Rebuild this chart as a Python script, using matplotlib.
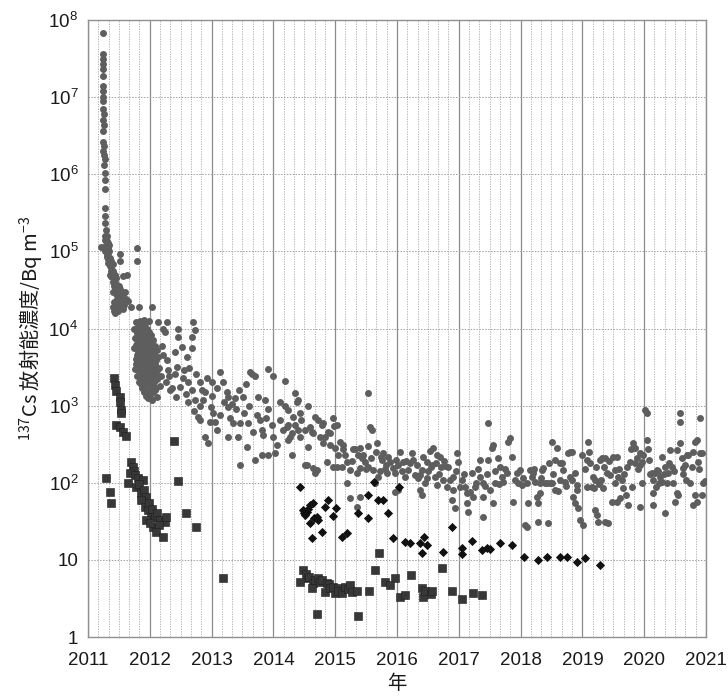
import numpy as np
import matplotlib
matplotlib.use("Agg")
import matplotlib.pyplot as plt
from matplotlib.ticker import MultipleLocator, FixedLocator, FixedFormatter, NullLocator, FuncFormatter

plt.rcParams['font.family'] = ['Liberation Sans', 'Noto Sans CJK JP', 'DejaVu Sans']
plt.rcParams['mathtext.default'] = 'regular'

# 137Cs 濃度 (Bq m^-3) -- 灰色の丸: 主系列
gray_2011 = [
    (2011.24, 6.8e7), (2011.24, 3.6e7), (2011.25, 3.1e7), (2011.24, 2.7e7), (2011.25, 2.3e7),
    (2011.24, 1.9e7), (2011.25, 1.4e7), (2011.24, 1.2e7), (2011.25, 1.0e7), (2011.24, 9.0e6),
    (2011.25, 7.0e6), (2011.26, 6.0e6), (2011.25, 5.0e6), (2011.26, 4.4e6), (2011.24, 3.6e6),
    (2011.25, 2.6e6), (2011.26, 2.3e6), (2011.25, 2.0e6), (2011.26, 1.8e6), (2011.27, 1.6e6),
    (2011.26, 1.3e6), (2011.27, 1.05e6), (2011.27, 8.5e5), (2011.27, 6.5e5), (2011.28, 3.6e5),
    (2011.28, 2.9e5), (2011.28, 2.3e5), (2011.29, 1.9e5), (2011.28, 1.6e5), (2011.30, 1.35e5),
    (2011.29, 1.2e5), (2011.21, 1.15e5), (2011.31, 1.05e5), (2011.30, 1.25e5), (2011.32, 1.1e5),
    (2011.33, 9.5e4), (2011.31, 8.5e4), (2011.34, 1.0e5), (2011.35, 8.2e4), (2011.33, 7.0e4),
    (2011.36, 6.5e4), (2011.37, 5.5e4), (2011.38, 6.2e4), (2011.36, 5.0e4), (2011.39, 4.6e4),
    (2011.40, 4.0e4), (2011.42, 3.6e4), (2011.41, 3.0e4), (2011.43, 4.2e4), (2011.44, 3.8e4),
    (2011.45, 2.8e4), (2011.42, 2.2e4), (2011.40, 1.9e4), (2011.42, 1.7e4), (2011.44, 1.6e4),
    (2011.47, 2.4e4), (2011.48, 3.0e4), (2011.50, 2.5e4), (2011.52, 3.3e4), (2011.52, 7.6e4),
    (2011.52, 9.3e4), (2011.55, 2.2e4), (2011.57, 4.8e4), (2011.54, 2.0e4), (2011.58, 2.3e4),
    (2011.63, 5.0e4), (2011.65, 2.3e4), (2011.70, 1.9e4), (2011.79, 1.12e5), (2011.79, 7.6e4),
    (2011.27, 1.4e5), (2011.30, 1.6e5), (2011.32, 1.3e5), (2011.34, 1.2e5), (2011.28, 1.0e5),
    (2011.30, 9.0e4), (2011.33, 8.0e4), (2011.35, 6.8e4), (2011.37, 7.5e4), (2011.38, 4.8e4),
    (2011.40, 5.5e4), (2011.41, 6.8e4), (2011.43, 5.0e4), (2011.45, 4.5e4), (2011.46, 3.4e4),
    (2011.44, 3.2e4), (2011.47, 3.7e4), (2011.49, 2.0e4), (2011.46, 1.9e4), (2011.48, 1.7e4),
    (2011.50, 3.6e4), (2011.53, 2.7e4), (2011.55, 2.9e4), (2011.57, 2.6e4), (2011.60, 3.0e4),
    (2011.56, 1.8e4), (2011.59, 2.0e4), (2011.62, 2.4e4),
]

gray_winter = [
    (2011.74, 1.0e4), (2011.76, 7.5e3), (2011.75, 5.6e3), (2011.77, 4.0e3), (2011.76, 3.0e3),
    (2011.78, 1.2e4), (2011.79, 8.8e3), (2011.78, 6.2e3), (2011.79, 4.6e3), (2011.78, 3.5e3),
    (2011.80, 2.4e3), (2011.81, 1.05e4), (2011.80, 7.2e3), (2011.81, 5.0e3), (2011.82, 3.9e3),
    (2011.81, 2.9e3), (2011.82, 2.0e3), (2011.83, 1.9e4), (2011.84, 1.25e4), (2011.83, 9.5e3),
    (2011.85, 6.8e3), (2011.84, 5.4e3), (2011.83, 4.3e3), (2011.85, 3.3e3), (2011.84, 2.6e3),
    (2011.86, 1.9e3), (2011.87, 1.1e4), (2011.86, 8.2e3), (2011.88, 6.0e3), (2011.87, 4.9e3),
    (2011.86, 3.8e3), (2011.88, 3.0e3), (2011.87, 2.3e3), (2011.88, 1.7e3), (2011.90, 1.3e4),
    (2011.89, 9.8e3), (2011.91, 7.4e3), (2011.90, 5.7e3), (2011.91, 4.4e3), (2011.89, 3.5e3),
    (2011.90, 2.7e3), (2011.91, 2.1e3), (2011.90, 1.5e3), (2011.93, 1.15e4), (2011.92, 8.6e3),
    (2011.94, 6.5e3), (2011.93, 5.2e3), (2011.92, 4.0e3), (2011.94, 3.2e3), (2011.93, 2.5e3),
    (2011.92, 1.9e3), (2011.94, 1.35e3), (2011.96, 1.0e4), (2011.95, 7.8e3), (2011.97, 6.0e3),
    (2011.96, 4.6e3), (2011.95, 3.7e3), (2011.97, 2.9e3), (2011.96, 2.2e3), (2011.95, 1.6e3),
    (2011.97, 1.25e3), (2011.99, 1.25e4), (2011.98, 9.0e3), (2012.00, 6.8e3), (2011.99, 5.3e3),
    (2011.98, 4.2e3), (2012.00, 3.4e3), (2011.99, 2.6e3), (2011.98, 2.0e3), (2012.00, 1.5e3),
    (2012.02, 8.2e3), (2012.01, 6.2e3), (2012.03, 4.8e3), (2012.02, 3.8e3), (2012.01, 3.0e3),
    (2012.03, 2.3e3), (2012.02, 1.8e3), (2012.01, 1.3e3), (2012.04, 1.9e4), (2012.05, 7.0e3),
    (2012.04, 5.5e3), (2012.06, 4.3e3), (2012.05, 3.3e3), (2012.04, 2.6e3), (2012.06, 2.0e3),
    (2012.05, 1.5e3), (2012.04, 1.2e3), (2012.08, 6.0e3), (2012.07, 4.5e3), (2012.09, 3.5e3),
    (2012.08, 2.7e3), (2012.07, 2.1e3), (2012.09, 1.6e3), (2012.11, 5.2e3), (2012.10, 3.9e3),
    (2012.12, 2.9e3), (2012.11, 2.2e3), (2012.10, 1.7e3), (2012.12, 1.3e3), (2012.13, 1.2e4),
    (2012.14, 4.3e3), (2012.15, 3.1e3), (2012.14, 2.4e3), (2012.16, 1.8e3),
]

gray_2012 = [
    (2012.21, 1.0e4), (2012.25, 9.0e3), (2012.28, 1.2e4), (2012.46, 1.0e4), (2012.70, 1.2e4),
    (2012.73, 9.5e3), (2012.46, 7.8e3), (2012.68, 7.8e3), (2012.52, 5.8e3), (2012.68, 5.6e3),
    (2012.60, 4.3e3), (2012.20, 6.0e3), (2012.22, 4.6e3), (2012.40, 5.0e3), (2012.28, 3.9e3),
    (2012.44, 3.2e3), (2012.63, 3.1e3), (2012.29, 2.9e3), (2012.40, 2.6e3), (2012.56, 2.9e3),
    (2012.75, 2.6e3), (2012.54, 2.3e3), (2012.18, 2.4e3), (2012.31, 2.4e3), (2012.62, 2.0e3),
    (2012.26, 2.0e3), (2012.36, 1.7e3), (2012.49, 1.75e3), (2012.68, 1.6e3), (2012.33, 1.6e3),
    (2012.58, 1.4e3), (2012.42, 1.3e3), (2012.81, 2.0e3), (2012.93, 2.3e3), (2012.84, 1.6e3),
    (2012.90, 1.5e3), (2012.73, 1.2e3), (2012.86, 1.2e3), (2012.62, 1.1e3), (2012.81, 1.0e3),
    (2012.99, 950), (2012.78, 720), (2012.81, 650), (2012.97, 620), (2012.89, 390),
    (2012.94, 330), (2012.72, 850),
]

gray_2013 = [
    (2013.14, 2.7e3), (2013.01, 2.0e3), (2013.18, 2.0e3), (2013.09, 1.7e3), (2013.01, 1.35e3),
    (2013.25, 1.5e3), (2013.27, 1.3e3), (2013.38, 1.25e3), (2013.33, 1.05e3), (2013.20, 1.1e3),
    (2013.27, 950), (2013.02, 800), (2013.14, 760), (2013.30, 700), (2013.06, 620),
    (2013.09, 490), (2013.27, 390), (2013.45, 1.6e3), (2013.51, 1.3e3), (2013.56, 1.9e3),
    (2013.62, 2.7e3), (2013.66, 2.55e3), (2013.70, 2.4e3), (2013.60, 1.0e3), (2013.52, 800),
    (2013.40, 900), (2013.35, 590), (2013.46, 590), (2013.59, 590), (2013.43, 390),
    (2013.57, 290), (2013.46, 170), (2013.67, 460), (2013.70, 200), (2013.73, 760),
    (2013.75, 1.3e3), (2013.78, 650), (2013.82, 490), (2013.83, 420), (2013.82, 230),
    (2013.86, 1.2e3), (2013.88, 700), (2013.91, 3.0e3), (2013.92, 900), (2013.91, 230),
    (2013.99, 2.4e3), (2013.98, 560), (2013.99, 390),
]

gray_2014 = [
    (2014.03, 240), (2014.06, 310), (2014.11, 1.1e3), (2014.11, 660), (2014.15, 480),
    (2014.19, 2.1e3), (2014.19, 1.0e3), (2014.22, 530), (2014.24, 880), (2014.24, 560),
    (2014.24, 360), (2014.27, 390), (2014.30, 230), (2014.30, 440), (2014.32, 720),
    (2014.35, 1.45e3), (2014.35, 560), (2014.38, 1.1e3), (2014.40, 1.2e3), (2014.40, 480),
    (2014.43, 800), (2014.43, 390), (2014.45, 650), (2014.51, 480), (2014.51, 170),
    (2014.54, 170), (2014.56, 1.0e3), (2014.56, 290), (2014.59, 530), (2014.62, 460),
    (2014.64, 440), (2014.64, 155), (2014.67, 135), (2014.67, 720), (2014.70, 147),
    (2014.72, 650), (2014.75, 390), (2014.78, 560), (2014.80, 600), (2014.80, 330),
    (2014.83, 390), (2014.86, 185), (2014.88, 450), (2014.92, 440), (2014.92, 310),
    (2014.96, 700), (2014.96, 160), (2014.98, 550),
]

gray_2015 = [
    (2015.00, 285), (2015.03, 160), (2015.05, 230), (2015.03, 560), (2015.08, 340),
    (2015.11, 160), (2015.13, 270), (2015.13, 310), (2015.19, 185), (2015.19, 100),
    (2015.24, 147), (2015.24, 63), (2015.28, 270), (2015.32, 270), (2015.35, 135),
    (2015.35, 48), (2015.37, 230), (2015.40, 155), (2015.40, 285), (2015.40, 66),
    (2015.43, 210), (2015.45, 230), (2015.48, 185), (2015.50, 150), (2015.53, 1.45e3),
    (2015.53, 300), (2015.53, 160), (2015.56, 530), (2015.60, 480), (2015.61, 147),
    (2015.64, 100), (2015.66, 250), (2015.68, 330), (2015.69, 120), (2015.72, 140),
    (2015.74, 215), (2015.76, 198), (2015.77, 245), (2015.80, 150), (2015.84, 135),
    (2015.85, 215), (2015.89, 185), (2015.94, 155), (2015.97, 135), (2015.97, 75),
    (2015.99, 200), (2015.16, 230), (2015.27, 190), (2015.58, 210), (2015.82, 170),
]

gray_2016 = [
    (2016.02, 170), (2016.02, 81), (2016.05, 250), (2016.10, 185), (2016.13, 120),
    (2016.15, 190), (2016.18, 147), (2016.21, 180), (2016.24, 245), (2016.29, 125),
    (2016.32, 170), (2016.34, 115), (2016.37, 125), (2016.40, 147), (2016.37, 81),
    (2016.40, 70), (2016.42, 215), (2016.45, 100), (2016.48, 185), (2016.48, 115),
    (2016.50, 140), (2016.53, 260), (2016.57, 170), (2016.58, 285), (2016.61, 120),
    (2016.63, 180), (2016.65, 230), (2016.65, 94), (2016.70, 215), (2016.72, 160),
    (2016.74, 109), (2016.78, 165), (2016.81, 88), (2016.83, 160), (2016.86, 110),
    (2016.89, 60), (2016.91, 120), (2016.91, 81), (2016.94, 47), (2016.97, 245),
    (2016.99, 185), (2016.08, 140), (2016.26, 200), (2016.55, 160), (2016.68, 130),
    (2016.76, 190), (2016.95, 140),
]

gray_2017 = [
    (2017.02, 88), (2017.05, 110), (2017.10, 88), (2017.13, 74), (2017.13, 54),
    (2017.15, 42), (2017.18, 76), (2017.21, 135), (2017.23, 66), (2017.26, 88),
    (2017.28, 100), (2017.34, 120), (2017.34, 198), (2017.39, 100), (2017.39, 66),
    (2017.39, 36), (2017.42, 90), (2017.45, 130), (2017.47, 600), (2017.50, 81),
    (2017.54, 280), (2017.55, 310), (2017.55, 54), (2017.59, 100), (2017.63, 210),
    (2017.67, 160), (2017.70, 120), (2017.72, 102), (2017.75, 150), (2017.78, 135),
    (2017.80, 340), (2017.83, 380), (2017.86, 215), (2017.88, 56), (2017.91, 110),
    (2017.94, 135), (2017.99, 147), (2017.08, 130), (2017.31, 150), (2017.48, 200),
    (2017.58, 140), (2017.65, 95), (2017.96, 100),
]

gray_2018 = [
    (2018.04, 115), (2018.07, 28), (2018.10, 100), (2018.10, 27), (2018.12, 54),
    (2018.15, 147), (2018.18, 120), (2018.20, 135), (2018.23, 102), (2018.26, 66),
    (2018.28, 54), (2018.28, 31), (2018.31, 98), (2018.31, 74), (2018.35, 147),
    (2018.36, 155), (2018.39, 98), (2018.43, 98), (2018.44, 30), (2018.48, 98),
    (2018.51, 340), (2018.51, 98), (2018.56, 198), (2018.56, 81), (2018.59, 285),
    (2018.61, 78), (2018.64, 180), (2018.64, 109), (2018.69, 147), (2018.72, 102),
    (2018.77, 245), (2018.80, 120), (2018.83, 250), (2018.85, 66), (2018.88, 135),
    (2018.88, 55), (2018.91, 94), (2018.93, 47), (2018.96, 33), (2018.99, 230),
    (2018.02, 94), (2018.21, 150), (2018.33, 115), (2018.46, 180), (2018.53, 130),
    (2018.67, 180), (2018.74, 90), (2018.83, 109), (2018.91, 81), (2018.80, 250),
]

gray_2019 = [
    (2019.01, 28), (2019.04, 150), (2019.07, 198), (2019.07, 88), (2019.09, 340),
    (2019.12, 180), (2019.15, 88), (2019.17, 120), (2019.20, 109), (2019.20, 44),
    (2019.24, 38), (2019.25, 31), (2019.28, 200), (2019.30, 110), (2019.32, 210),
    (2019.33, 85), (2019.37, 210), (2019.37, 31), (2019.40, 135), (2019.41, 30),
    (2019.45, 126), (2019.48, 56), (2019.50, 215), (2019.53, 147), (2019.56, 215),
    (2019.56, 56), (2019.58, 120), (2019.61, 63), (2019.64, 109), (2019.66, 85),
    (2019.70, 69), (2019.74, 52), (2019.77, 185), (2019.80, 88), (2019.82, 330),
    (2019.85, 285), (2019.85, 180), (2019.88, 210), (2019.93, 245), (2019.93, 48),
    (2019.96, 185), (2019.96, 100), (2019.98, 230), (2019.10, 250), (2019.18, 85),
    (2019.22, 160), (2019.27, 95), (2019.35, 160), (2019.43, 190), (2019.52, 100),
    (2019.60, 150), (2019.68, 130), (2019.72, 160), (2019.79, 270), (2019.90, 150),
    (2019.94, 170),
]

gray_2020 = [
    (2020.01, 880), (2020.05, 810), (2020.05, 360), (2020.06, 270), (2020.10, 130),
    (2020.14, 74), (2020.14, 52), (2020.15, 110), (2020.17, 135), (2020.21, 147),
    (2020.24, 100), (2020.26, 120), (2020.29, 102), (2020.29, 215), (2020.32, 130),
    (2020.34, 160), (2020.34, 40), (2020.39, 135), (2020.42, 265), (2020.45, 160),
    (2020.47, 100), (2020.50, 56), (2020.53, 74), (2020.53, 265), (2020.58, 330),
    (2020.58, 620), (2020.58, 800), (2020.61, 210), (2020.63, 155), (2020.66, 170),
    (2020.69, 230), (2020.74, 100), (2020.77, 160), (2020.79, 250), (2020.79, 52),
    (2020.82, 69), (2020.85, 56), (2020.85, 360), (2020.87, 185), (2020.90, 700),
    (2020.90, 245), (2020.93, 69), (2020.95, 100), (2020.99, 105), (2020.08, 200),
    (2020.12, 135), (2020.19, 88), (2020.22, 140), (2020.37, 100), (2020.40, 180),
    (2020.48, 140), (2020.55, 69), (2020.63, 130), (2020.68, 110), (2020.71, 230),
    (2020.82, 340), (2020.88, 150), (2020.93, 245),
]

# 黒い四角: 第2系列
square_pts = [
    (2011.42, 2.3e3), (2011.44, 1.85e3), (2011.45, 1.55e3), (2011.52, 1.3e3), (2011.52, 1.1e3),
    (2011.53, 880), (2011.53, 810), (2011.45, 560), (2011.52, 530), (2011.57, 460),
    (2011.61, 400), (2011.29, 115), (2011.36, 77), (2011.37, 55),
    (2011.70, 185), (2011.73, 160), (2011.75, 140), (2011.68, 135), (2011.76, 125),
    (2011.65, 100), (2011.81, 115), (2011.89, 109), (2011.78, 88), (2011.83, 95),
    (2011.86, 74), (2011.90, 80), (2011.94, 66), (2011.86, 60), (2011.92, 48),
    (2011.97, 44), (2011.99, 55), (2012.02, 36), (2011.94, 33), (2012.04, 45),
    (2012.08, 36), (2012.12, 40), (2012.17, 33), (2012.25, 31), (2012.05, 27),
    (2012.00, 30), (2012.15, 28), (2012.10, 23), (2012.21, 20), (2012.26, 36),
    (2012.39, 350), (2012.46, 105), (2012.58, 40), (2012.75, 27), (2013.18, 5.8),
    (2014.48, 7.4), (2014.43, 5.2), (2014.52, 6.5), (2014.56, 5.8), (2014.58, 6.0),
    (2014.64, 5.0), (2014.62, 4.3), (2014.68, 5.5), (2014.72, 5.8), (2014.75, 5.2),
    (2014.79, 5.5), (2014.87, 5.0), (2014.83, 3.8), (2014.90, 4.8), (2014.92, 4.3),
    (2015.00, 3.7), (2014.96, 4.5), (2015.05, 4.3), (2015.05, 4.0), (2015.11, 3.7),
    (2015.16, 4.5), (2015.20, 4.2), (2015.24, 4.7), (2015.27, 3.8), (2015.35, 4.0),
    (2014.71, 2.0), (2015.37, 1.9), (2015.55, 4.0), (2015.64, 7.4), (2015.71, 12.2),
    (2015.81, 5.2), (2015.97, 5.8), (2015.89, 4.7), (2016.05, 3.3), (2016.13, 3.5),
    (2016.23, 6.4), (2016.40, 4.3), (2016.42, 3.3), (2016.45, 4.0), (2016.55, 3.6),
    (2016.57, 4.0), (2016.73, 7.8), (2016.89, 4.0), (2017.05, 3.1), (2017.23, 3.7),
    (2017.38, 3.5),
]

# 黒い菱形: 第3系列
diamond_pts = [
    (2014.43, 88), (2014.48, 44), (2014.50, 40), (2014.54, 42), (2014.56, 46),
    (2014.60, 52), (2014.64, 55), (2014.51, 38), (2014.59, 30), (2014.66, 35),
    (2014.70, 36), (2014.72, 33), (2014.62, 19), (2014.78, 23), (2014.83, 48),
    (2014.89, 60), (2015.02, 47), (2014.96, 37), (2015.11, 20), (2015.19, 22),
    (2015.37, 40), (2015.53, 70), (2015.53, 35), (2015.63, 102), (2015.69, 60),
    (2015.77, 60), (2015.85, 40), (2016.03, 88), (2015.94, 19), (2016.13, 17),
    (2016.21, 16.5), (2016.37, 16.5), (2016.44, 20), (2016.49, 15.5), (2016.40, 12.3),
    (2016.74, 12.7), (2016.89, 27), (2017.05, 14.2), (2017.05, 12), (2017.21, 17.6),
    (2017.38, 13.4), (2017.45, 14.2), (2017.50, 14.0), (2017.67, 16.5), (2017.86, 15.6),
    (2018.05, 11), (2018.28, 10), (2018.43, 11), (2018.64, 11), (2018.75, 11),
    (2018.91, 9.4), (2019.04, 10.6), (2019.29, 8.6),
]

year_ticks = list(range(2011, 2022))
decade_ticks = [1, 10, 1e2, 1e3, 1e4, 1e5, 1e6, 1e7, 1e8]
decade_labels = ['1', '10'] + [r'$\mathdefault{10^{%d}}$' % k for k in range(2, 9)]

gray_all = np.array(gray_2011 + gray_winter + gray_2012 + gray_2013 + gray_2014 + gray_2015
                    + gray_2016 + gray_2017 + gray_2018 + gray_2019 + gray_2020)
squares = np.array(square_pts)
diamonds = np.array(diamond_pts)

fig = plt.figure(figsize=(7.28, 6.97), dpi=100)
ax = fig.add_axes([88 / 728, 1 - 637 / 697, 618 / 728, 617 / 697])

ax.scatter(gray_all[:, 0], gray_all[:, 1], s=25, marker='o', color='#5e5e5e',
           linewidths=0, zorder=3)
ax.scatter(squares[:, 0], squares[:, 1], s=40, marker='s', color='#383838',
           edgecolors='#1e1e1e', linewidths=0.4, zorder=4)
ax.scatter(diamonds[:, 0], diamonds[:, 1], s=22, marker='D', color='#111111',
           linewidths=0, zorder=5)

ax.set_yscale('log')
ax.set_xlim(2011, 2021)
ax.set_ylim(1, 1e8)

ax.xaxis.set_major_locator(FixedLocator(year_ticks))
ax.xaxis.set_minor_locator(MultipleLocator(1 / 6))
ax.xaxis.set_major_formatter(FuncFormatter(lambda v, p: '%d' % round(v)))
ax.yaxis.set_major_locator(FixedLocator(decade_ticks))
ax.yaxis.set_major_formatter(FixedFormatter(decade_labels))
ax.yaxis.set_minor_locator(NullLocator())

ax.set_axisbelow(True)
ax.grid(True, which='major', axis='x', color='#8c8c8c', lw=0.9, ls='-')
ax.grid(True, which='minor', axis='x', color='#a8a8a8', lw=0.6, ls=(0, (1.5, 1.5)))
ax.grid(True, which='major', axis='y', color='#a0a0a0', lw=0.7, ls=(0, (1.5, 1.5)))

ax.tick_params(which='both', length=0)
ax.tick_params(axis='x', labelsize=13.5, pad=11, colors='#1a1a1a')
ax.tick_params(axis='y', labelsize=13.5, pad=7, colors='#1a1a1a')
for sp in ax.spines.values():
    sp.set_color('#909090')
    sp.set_linewidth(1.0)

ax.set_xlabel('年', fontsize=14, labelpad=4, color='#1a1a1a')
ax.set_ylabel(r'$^{137}$Cs 放射能濃度/Bq m$^{-3}$', fontsize=14.5, family='Noto Sans CJK JP',
              color='#1a1a1a', labelpad=2)

fig.savefig('out.png', dpi=100)
